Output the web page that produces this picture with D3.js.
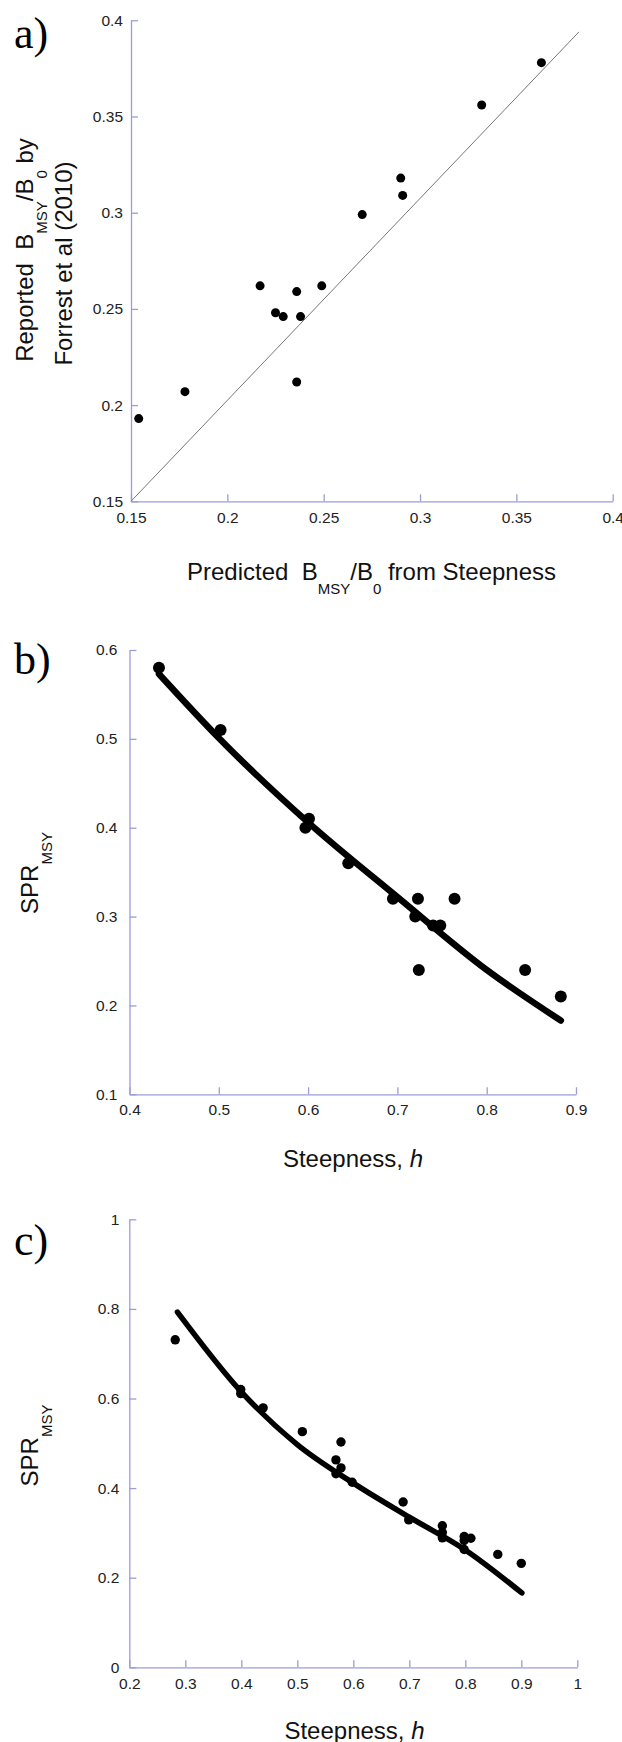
<!DOCTYPE html>
<html>
<head>
<meta charset="utf-8">
<script src="https://cdn.jsdelivr.net/npm/d3@7"></script>
<style>
  body { margin: 0; background: #fff; }
  svg text { font-family: "Liberation Sans", Arial, sans-serif; }
  .panel-label { font-family: "Liberation Serif", serif !important; font-size: 44px; }
  .axis .tick text { font-size: 15.5px; fill: #222; }
  .axis path, .axis line { stroke: #9c9cd8; stroke-width: 1.3; }
  .title { font-size: 24px; fill: #111; white-space: pre; }
</style>
</head>
<body>
<svg id="chart" width="622" height="1742"></svg>
<script>
"use strict"

// a) predicted vs reported Bmsy/B0
var aPredicted = [0.154, 0.178, 0.217, 0.225, 0.229, 0.236, 0.238, 0.236, 0.249, 0.270, 0.290, 0.291, 0.332, 0.363];
var aReported  = [0.193, 0.207, 0.262, 0.248, 0.246, 0.259, 0.246, 0.212, 0.262, 0.299, 0.318, 0.309, 0.356, 0.378];
var aLineX = [0.15, 0.3825];
var aLineY = [0.15, 0.394];
var aTicks = [0.15, 0.2, 0.25, 0.3, 0.35, 0.4];

// b) steepness vs SPRmsy
var bSteep = [0.433, 0.502, 0.601, 0.597, 0.645, 0.695, 0.723, 0.720, 0.740, 0.748, 0.764, 0.724, 0.843, 0.883];
var bSpr   = [0.580, 0.510, 0.410, 0.400, 0.360, 0.320, 0.320, 0.300, 0.290, 0.290, 0.320, 0.240, 0.240, 0.210];
var bCurveX = [0.433, 0.5, 0.6, 0.7, 0.8, 0.883];
var bCurveY = [0.573, 0.501, 0.406, 0.322, 0.240, 0.183];
var bXTicks = [0.4, 0.5, 0.6, 0.7, 0.8, 0.9];
var bYTicks = [0.1, 0.2, 0.3, 0.4, 0.5, 0.6];

// c) steepness vs SPRmsy, second set
var cSteep = [0.282, 0.399, 0.399, 0.439, 0.509, 0.578, 0.569, 0.578, 0.569, 0.598, 0.689, 0.699,
              0.759, 0.759, 0.759, 0.798, 0.798, 0.810, 0.798, 0.858, 0.900];
var cSpr   = [0.731, 0.620, 0.611, 0.579, 0.526, 0.503, 0.463, 0.445, 0.432, 0.413, 0.369, 0.329,
              0.316, 0.301, 0.289, 0.292, 0.283, 0.288, 0.263, 0.252, 0.232];
var cCurveX = [0.286, 0.4, 0.5, 0.6, 0.7, 0.8, 0.901];
var cCurveY = [0.793, 0.615, 0.497, 0.411, 0.335, 0.262, 0.166];
var cXTicks = [0.2, 0.3, 0.4, 0.5, 0.6, 0.7, 0.8, 0.9, 1];
var cYTicks = [0, 0.2, 0.4, 0.6, 0.8, 1];

var svg = d3.select('#chart');
var fmt = d3.format('~g');

// text with subscripts: parts = [[string, isSub], ...]
function richText(sel, parts) {
  parts.forEach(function(p, i) {
    var t = sel.append('tspan').text(p[0]);
    if (p[1]) t.attr('font-size', 15).attr('dy', 14);
    else if (i > 0 && parts[i - 1][1]) t.attr('dy', -14);
  });
}

function panel(c) {
  var x = d3.scaleLinear().domain(c.xDomain).range([c.left, c.right]);
  var y = d3.scaleLinear().domain(c.yDomain).range([c.bottom, c.top]);
  var g = svg.append('g');

  g.append('g').attr('class', 'axis')
    .attr('transform', 'translate(0,' + c.bottom + ')')
    .call(d3.axisBottom(x).tickValues(c.xTicks).tickFormat(fmt)
      .tickSizeInner(-7).tickSizeOuter(0).tickPadding(c.xPad));

  g.append('g').attr('class', 'axis')
    .attr('transform', 'translate(' + c.left + ',0)')
    .call(d3.axisLeft(y).tickValues(c.yTicks).tickFormat(fmt)
      .tickSizeInner(-7).tickSizeOuter(0).tickPadding(c.yPad));

  if (c.line) {
    var line = d3.line().x(d => x(d[0])).y(d => y(d[1]));
    if (c.curve) line.curve(d3.curveMonotoneX);
    g.append('path')
      .datum(d3.zip(c.line[0], c.line[1]))
      .attr('d', line)
      .attr('fill', 'none')
      .attr('stroke', c.lineColor)
      .attr('stroke-width', c.lineWidth)
      .attr('stroke-linecap', c.curve ? 'round' : 'butt');
  }

  g.selectAll('circle.pt')
    .data(d3.zip(c.xs, c.ys))
    .enter().append('circle')
      .attr('class', 'pt')
      .attr('cx', d => x(d[0]))
      .attr('cy', d => y(d[1]))
      .attr('r', c.r)
      .attr('fill', '#000');

  g.append('text').attr('class', 'panel-label')
    .attr('x', 14).attr('y', c.labelY).text(c.label);

  var xt = g.append('text').attr('class', 'title')
    .attr('x', c.xTitlePos[0]).attr('y', c.xTitlePos[1])
    .attr('text-anchor', 'middle');
  richText(xt, c.xTitle);

  c.yTitle.forEach(function(parts, i) {
    var yt = g.append('text').attr('class', 'title')
      .attr('transform', 'translate(' + c.yTitlePos[i][0] + ',' + c.yTitlePos[i][1] + ') rotate(-90)')
      .attr('text-anchor', 'middle');
    richText(yt, parts);
  });
}

panel({
  xDomain: [0.15, 0.4], yDomain: [0.15, 0.4],
  left: 131, right: 612.7, top: 20.3, bottom: 501.3,
  xTicks: aTicks, yTicks: aTicks, xPad: 11, yPad: 8,
  xs: aPredicted, ys: aReported, r: 4.5,
  line: [aLineX, aLineY], lineColor: '#777', lineWidth: 1, curve: false,
  label: 'a)', labelY: 48,
  xTitle: [['Predicted  B', false], ['MSY', true], ['/B', false], ['0', true], [' from Steepness', false]],
  xTitlePos: [371.5, 580],
  yTitle: [[['Reported  B', false], ['MSY', true], ['/B', false], ['0', true], [' by', false]],
           [['Forrest et al (2010)', false]]],
  yTitlePos: [[32.5, 250], [72, 263.5]]
});

panel({
  xDomain: [0.4, 0.9], yDomain: [0.1, 0.6],
  left: 129.5, right: 576, top: 650, bottom: 1094.3,
  xTicks: bXTicks, yTicks: bYTicks, xPad: 10, yPad: 12,
  xs: bSteep, ys: bSpr, r: 6,
  line: [bCurveX, bCurveY], lineColor: '#000', lineWidth: 6.5, curve: true,
  label: 'b)', labelY: 673.6,
  xTitle: [['Steepness, ', false]],
  xTitlePos: [353, 1166.8],
  yTitle: [[['SPR', false], ['MSY', true]]],
  yTitlePos: [[37.7, 873]]
});

panel({
  xDomain: [0.2, 1], yDomain: [0, 1],
  left: 129.3, right: 577.3, top: 1219.3, bottom: 1667.3,
  xTicks: cXTicks, yTicks: cYTicks, xPad: 10.5, yPad: 10,
  xs: cSteep, ys: cSpr, r: 4.7,
  line: [cCurveX, cCurveY], lineColor: '#000', lineWidth: 5.5, curve: true,
  label: 'c)', labelY: 1255,
  xTitle: [['Steepness, ', false]],
  xTitlePos: [354.5, 1739],
  yTitle: [[['SPR', false], ['MSY', true]]],
  yTitlePos: [[37.7, 1445.5]]
});

// italic h in the steepness titles
svg.selectAll('text.title').filter(function() { return this.textContent === 'Steepness, '; })
  .append('tspan').attr('font-style', 'italic').text('h');
</script>
</body>
</html>
